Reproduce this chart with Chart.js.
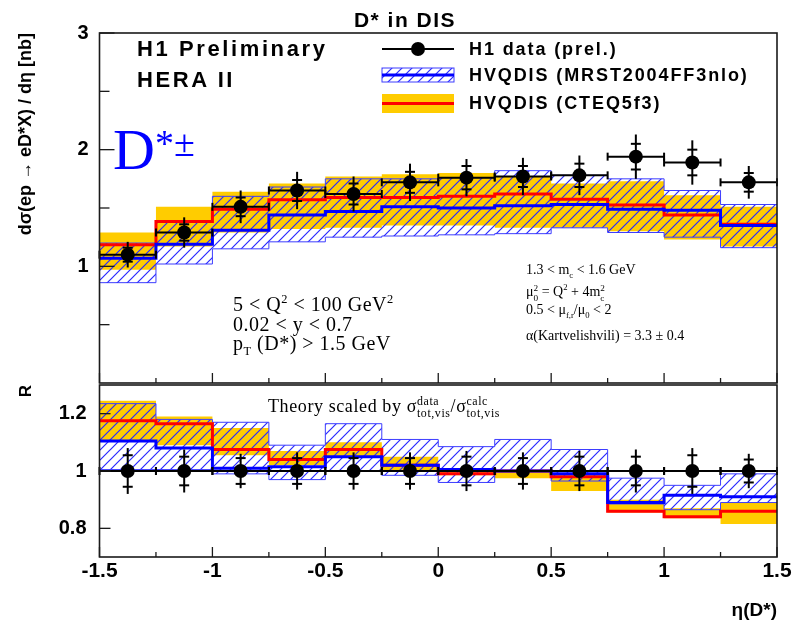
<!DOCTYPE html>
<html>
<head>
<meta charset="utf-8">
<script src="https://cdn.jsdelivr.net/npm/chart.js@4/dist/chart.umd.min.js"></script>
<style>
  html, body { margin: 0; padding: 0; background: #fff; }
  #wrap { position: relative; width: 797px; height: 622px; overflow: hidden; background: #fff; }
  #wrap canvas { position: absolute; left: 0; top: 0; }
  .t { position: absolute; white-space: nowrap; line-height: 1; color: #000; }
  .sans { font-family: "Liberation Sans", Arial, sans-serif; font-weight: bold; }
  .serif { font-family: "Liberation Serif", "Times New Roman", serif; }
  .t sup, .t sub { font-size: 0.62em; line-height: 0; }
  .stk { display: inline-block; font-size: 0.66em; line-height: 1.05; vertical-align: -0.5em; text-align: left; }
  .stk span { display: block; }
</style>
</head>
<body>
<div id="wrap">
  <canvas id="ratioPanel" width="797" height="622"></canvas>
  <canvas id="xsecPanel" width="797" height="622"></canvas>

  <div class="t sans" style="left:405px;top:9px;font-size:21px;letter-spacing:1.5px;transform:translateX(-50%)">D* in DIS</div>
  <div class="t sans" style="left:137px;top:38px;font-size:22px;letter-spacing:2.6px">H1 Preliminary</div>
  <div class="t sans" style="left:137px;top:69px;font-size:22px;letter-spacing:2.6px">HERA II</div>

  <div class="t sans" style="left:469px;top:40px;font-size:18px;letter-spacing:1.9px">H1 data (prel.)</div>
  <div class="t sans" style="left:469px;top:66px;font-size:18px;letter-spacing:1.9px">HVQDIS (MRST2004FF3nlo)</div>
  <div class="t sans" style="left:469px;top:94px;font-size:18px;letter-spacing:1.9px">HVQDIS (CTEQ5f3)</div>

  <div class="t serif" style="left:113px;top:121px;font-size:58px;color:#0000ff">D<span style="font-size:38px;position:relative;top:-13px">*±</span></div>

  <div class="t serif" style="left:233px;top:294px;font-size:20px;letter-spacing:0.5px">5 &lt; Q<sup>2</sup> &lt; 100 GeV<sup>2</sup></div>
  <div class="t serif" style="left:233px;top:314px;font-size:20px;letter-spacing:0.5px">0.02 &lt; y &lt; 0.7</div>
  <div class="t serif" style="left:233px;top:333px;font-size:20px;letter-spacing:0.5px">p<sub>T</sub> (D*) &gt; 1.5 GeV</div>

  <div class="t serif" style="left:526px;top:263px;font-size:14px">1.3 &lt; m<sub>c</sub> &lt; 1.6 GeV</div>
  <div class="t serif" style="left:526px;top:284px;font-size:14px">μ<span class="stk"><span>2</span><span>0</span></span> = Q<sup>2</sup> + 4m<span class="stk"><span>2</span><span>c</span></span></div>
  <div class="t serif" style="left:526px;top:303px;font-size:14px">0.5 &lt; μ<sub>f,r</sub>/μ<sub>0</sub> &lt; 2</div>
  <div class="t serif" style="left:526px;top:329px;font-size:14px">α(Kartvelishvili) = 3.3 ± 0.4</div>

  <div class="t serif" style="left:268px;top:395px;font-size:18px;letter-spacing:0.6px">Theory scaled by σ<span class="stk"><span>data</span><span>tot,vis</span></span>/σ<span class="stk"><span>calc</span><span>tot,vis</span></span></div>
</div>

<script>
// ---- binning and axis ticks ----
const etaEdges = [-1.5, -1.25, -1, -0.75, -0.5, -0.25, 0, 0.25, 0.5, 0.75, 1, 1.25, 1.5];
const etaCentres = etaEdges.slice(0, -1).map((e, i) => (e + etaEdges[i + 1]) / 2);
const etaMajorTicks = [-1.5, -1, -0.5, 0, 0.5, 1, 1.5];
const etaTickLabels = ['-1.5', '-1', '-0.5', '0', '0.5', '1', '1.5'];
const xsecTicks = [1, 2, 3];
const xsecTickLabels = ['1', '2', '3'];
const xsecMinorTicks = [0.5, 1.5, 2.5];
const ratioTicks = [0.8, 1, 1.2];
const ratioTickLabels = ['0.8', '1', '1.2'];

// ---- H1 measurement, dsigma/deta [nb] ----
const h1Xsec     = [1.10, 1.29, 1.51, 1.65, 1.62, 1.72, 1.76, 1.77, 1.78, 1.94, 1.89, 1.72];
const h1XsecStat = [0.06, 0.07, 0.08, 0.09, 0.09, 0.09, 0.10, 0.09, 0.10, 0.11, 0.11, 0.08];
const h1XsecTot  = [0.11, 0.13, 0.14, 0.16, 0.15, 0.16, 0.16, 0.16, 0.17, 0.19, 0.19, 0.14];

// ---- HVQDIS with MRST2004FF3nlo ----
const mrstXsec     = [1.07, 1.19, 1.31, 1.44, 1.47, 1.51, 1.50, 1.52, 1.53, 1.49, 1.48, 1.35];
const mrstXsecUp   = [1.20, 1.39, 1.60, 1.68, 1.75, 1.75, 1.76, 1.82, 1.78, 1.75, 1.65, 1.53];
const mrstXsecDown = [0.86, 1.02, 1.15, 1.21, 1.25, 1.26, 1.27, 1.28, 1.33, 1.29, 1.25, 1.16];

// ---- HVQDIS with CTEQ5f3 ----
const cteqXsec     = [1.185, 1.385, 1.49, 1.57, 1.59, 1.59, 1.60, 1.62, 1.575, 1.525, 1.44, 1.36];
const cteqXsecUp   = [1.29, 1.51, 1.64, 1.71, 1.77, 1.79, 1.80, 1.77, 1.71, 1.73, 1.61, 1.51];
const cteqXsecDown = [0.97, 1.17, 1.29, 1.32, 1.33, 1.35, 1.35, 1.33, 1.33, 1.30, 1.23, 1.17];

// ---- ratio panel: theory scaled to the visible data cross section ----
const h1Ratio     = [1, 1, 1, 1, 1, 1, 1, 1, 1, 1, 1, 1];
const h1RatioStat = [0.055, 0.05, 0.045, 0.045, 0.045, 0.045, 0.05, 0.045, 0.05, 0.05, 0.055, 0.04];
const h1RatioTot  = [0.08, 0.075, 0.06, 0.065, 0.065, 0.065, 0.07, 0.065, 0.07, 0.075, 0.08, 0.06];

const mrstRatio     = [1.105, 1.08, 1.01, 1.015, 1.05, 1.02, 1.005, 1.0, 0.99, 0.89, 0.915, 0.91];
const mrstRatioUp   = [1.235, 1.18, 1.17, 1.09, 1.165, 1.11, 1.085, 1.11, 1.075, 0.975, 0.95, 0.99];
const mrstRatioDown = [1.005, 1.005, 0.99, 0.97, 1.0, 0.985, 0.96, 1.0, 0.965, 0.885, 0.865, 0.89];

const cteqRatio     = [1.175, 1.165, 1.075, 1.04, 1.075, 1.02, 0.99, 1.0, 0.98, 0.86, 0.84, 0.86];
const cteqRatioUp   = [1.245, 1.19, 1.15, 1.07, 1.10, 1.05, 1.0, 1.0, 0.985, 0.90, 0.87, 0.89];
const cteqRatioDown = [1.105, 1.09, 1.055, 1.02, 1.05, 1.0, 0.985, 0.975, 0.93, 0.855, 0.835, 0.815];

const SANS = '"Liberation Sans", Arial, sans-serif';
const YELLOW = '#ffcc00';
const RED = '#ff0000';
const BLUE = '#0000ff';
const BLUE_EDGE = '#3d3dff';

// histogram outline: one point per lower bin edge plus the closing edge
const stepPoints = vals => {
  const pts = vals.map((v, i) => ({ x: etaEdges[i], y: v }));
  pts.push({ x: etaEdges[vals.length], y: vals[vals.length - 1] });
  return pts;
};

function hatchPattern() {
  const c = document.createElement('canvas');
  c.width = 10; c.height = 10;
  const g = c.getContext('2d');
  g.strokeStyle = '#2a2aff';
  g.lineWidth = 1.2;
  g.beginPath();
  g.moveTo(0, 10); g.lineTo(10, 0);
  g.moveTo(-1, 1); g.lineTo(1, -1);
  g.moveTo(9, 11); g.lineTo(11, 9);
  g.stroke();
  return g.createPattern(c, 'repeat');
}
const HATCH = hatchPattern();

function theoryDatasets(cLo, cHi, cMid, mLo, mHi, mMid) {
  // 'before': the horizontal run between two edges keeps the earlier edge's value
  const base = { stepped: 'before', pointRadius: 0, tension: 0 };
  return [
    { ...base, data: stepPoints(cLo), borderColor: 'rgba(0,0,0,0)', borderWidth: 0, fill: false, order: 10 },
    { ...base, data: stepPoints(cHi), borderColor: 'rgba(0,0,0,0)', borderWidth: 0, fill: '-1', backgroundColor: YELLOW, order: 9 },
    { ...base, data: stepPoints(mLo), borderColor: BLUE_EDGE, borderWidth: 1, fill: false, order: 8 },
    { ...base, data: stepPoints(mHi), borderColor: BLUE_EDGE, borderWidth: 1, fill: '-1', backgroundColor: HATCH, order: 7 },
    { ...base, data: stepPoints(cMid), borderColor: RED, borderWidth: 3, fill: false, order: 4 },
    { ...base, data: stepPoints(mMid), borderColor: BLUE, borderWidth: 3, fill: false, order: 3 }
  ];
}

function dataDataset(vals) {
  return {
    data: vals.map((v, i) => ({ x: etaCentres[i], y: v })),
    showLine: false, pointRadius: 7, pointBackgroundColor: '#000',
    pointBorderWidth: 0, order: 0
  };
}

// data error bars: bin-wide horizontal bar with end caps, total error bar, stat error ticks
const h1err = {
  id: 'h1err',
  afterDatasetsDraw(chart, args, o) {
    const { ctx } = chart;
    const xs = chart.scales.x, ys = chart.scales.y;
    const seg = (x1, y1, x2, y2) => { ctx.beginPath(); ctx.moveTo(x1, y1); ctx.lineTo(x2, y2); ctx.stroke(); };
    ctx.save();
    ctx.strokeStyle = '#000';
    ctx.lineWidth = 2;
    o.values.forEach((v, i) => {
      const xc = xs.getPixelForValue(etaCentres[i]);
      const xl = xs.getPixelForValue(etaEdges[i]);
      const xr = xs.getPixelForValue(etaEdges[i + 1]);
      const y = ys.getPixelForValue(v);
      seg(xl, y, xr, y);
      seg(xl, y - 4, xl, y + 4);
      seg(xr, y - 4, xr, y + 4);
      seg(xc, ys.getPixelForValue(v + o.tot[i]), xc, ys.getPixelForValue(v - o.tot[i]));
      const s1 = ys.getPixelForValue(v + o.stat[i]);
      const s2 = ys.getPixelForValue(v - o.stat[i]);
      seg(xc - 5, s1, xc + 5, s1);
      seg(xc - 5, s2, xc + 5, s2);
    });
    ctx.restore();
  }
};

// panel frame with inward tick marks
const frame = {
  id: 'frame',
  afterDraw(chart, args, o) {
    const { ctx, chartArea: a } = chart;
    const xs = chart.scales.x, ys = chart.scales.y;
    const seg = (x1, y1, x2, y2) => { ctx.beginPath(); ctx.moveTo(x1, y1); ctx.lineTo(x2, y2); ctx.stroke(); };
    ctx.save();
    ctx.strokeStyle = '#1a1a1a';
    ctx.lineWidth = 1.3;
    (o.yMajor || []).forEach(v => { const y = ys.getPixelForValue(v); seg(a.left, y, a.left + o.yMajorLen, y); });
    (o.yMinor || []).forEach(v => { const y = ys.getPixelForValue(v); seg(a.left, y, a.left + o.yMinorLen, y); });
    etaEdges.forEach(v => {
      const x = xs.getPixelForValue(v);
      const len = etaMajorTicks.includes(v) ? o.xMajorLen : o.xMinorLen;
      seg(x, a.bottom, x, a.bottom - len);
    });
    ctx.lineWidth = 1.6;
    ctx.strokeRect(a.left, a.top, a.right - a.left, a.bottom - a.top);
    ctx.restore();
  }
};

// legend keys drawn next to the legend entries
const legendKeys = {
  id: 'legendKeys',
  afterDraw(chart) {
    const ctx = chart.ctx;
    const x1 = 382, x2 = 454;
    ctx.save();
    // H1 data
    ctx.strokeStyle = '#000'; ctx.lineWidth = 2;
    ctx.beginPath(); ctx.moveTo(x1, 49); ctx.lineTo(x2, 49); ctx.stroke();
    ctx.fillStyle = '#000';
    ctx.beginPath(); ctx.arc((x1 + x2) / 2, 49, 7, 0, Math.PI * 2); ctx.fill();
    // MRST band
    ctx.fillStyle = HATCH; ctx.fillRect(x1, 68, x2 - x1, 14);
    ctx.strokeStyle = BLUE_EDGE; ctx.lineWidth = 1; ctx.strokeRect(x1, 68, x2 - x1, 14);
    ctx.strokeStyle = BLUE; ctx.lineWidth = 3;
    ctx.beginPath(); ctx.moveTo(x1, 75); ctx.lineTo(x2, 75); ctx.stroke();
    // CTEQ band
    ctx.fillStyle = YELLOW; ctx.fillRect(x1, 94, x2 - x1, 19);
    ctx.strokeStyle = RED; ctx.lineWidth = 3;
    ctx.beginPath(); ctx.moveTo(x1, 103.5); ctx.lineTo(x2, 103.5); ctx.stroke();
    ctx.restore();
  }
};

const common = {
  responsive: false, animation: false, events: [],
  plugins: { legend: { display: false }, tooltip: { enabled: false }, title: { display: false } }
};

// upper panel: differential cross section
new Chart(document.getElementById('xsecPanel'), {
  type: 'line',
  data: { datasets: [...theoryDatasets(cteqXsecDown, cteqXsecUp, cteqXsec, mrstXsecDown, mrstXsecUp, mrstXsec), dataDataset(h1Xsec)] },
  options: {
    ...common,
    layout: { padding: { top: 33, right: 20, bottom: 239, left: 0 } },
    plugins: {
      ...common.plugins,
      h1err: { values: h1Xsec, stat: h1XsecStat, tot: h1XsecTot },
      frame: { yMajor: xsecTicks, yMinor: xsecMinorTicks, yMajorLen: 15, yMinorLen: 10, xMajorLen: 10, xMinorLen: 5 }
    },
    scales: {
      x: { type: 'linear', min: -1.5, max: 1.5, display: false },
      y: {
        type: 'linear', min: 0, max: 3,
        afterFit(s) { s.width = 99.5; },
        afterBuildTicks(s) { s.ticks = xsecTicks.map(v => ({ value: v })); },
        grid: { display: false, drawTicks: false }, border: { display: false },
        ticks: { callback: (v, i) => xsecTickLabels[i], color: '#000', padding: 11,
                 font: { family: SANS, weight: 'bold', size: 20 } },
        title: { display: true, text: 'dσ(ep → eD*X) / dη [nb]', align: 'end', color: '#000',
                 font: { family: SANS, weight: 'bold', size: 18 }, padding: { top: 15, bottom: 0 } }
      }
    }
  },
  plugins: [h1err, frame, legendKeys]
});

// lower panel: ratio to data
new Chart(document.getElementById('ratioPanel'), {
  type: 'line',
  data: { datasets: [...theoryDatasets(cteqRatioDown, cteqRatioUp, cteqRatio, mrstRatioDown, mrstRatioUp, mrstRatio), dataDataset(h1Ratio)] },
  options: {
    ...common,
    layout: { padding: { top: 385, right: 20, bottom: 0, left: 0 } },
    plugins: {
      ...common.plugins,
      h1err: { values: h1Ratio, stat: h1RatioStat, tot: h1RatioTot },
      frame: { yMajor: ratioTicks, yMinor: [], yMajorLen: 11, yMinorLen: 0, xMajorLen: 10, xMinorLen: 5 }
    },
    scales: {
      x: {
        type: 'linear', min: -1.5, max: 1.5,
        afterFit(s) { s.height = 65; },
        afterBuildTicks(s) { s.ticks = etaMajorTicks.map(v => ({ value: v })); },
        grid: { display: false, drawTicks: false }, border: { display: false },
        ticks: { callback: (v, i) => etaTickLabels[i], color: '#000', padding: 2, autoSkip: false, maxRotation: 0,
                 font: { family: SANS, weight: 'bold', size: 21 } },
        title: { display: true, text: 'η(D*)', align: 'end', color: '#000',
                 font: { family: SANS, weight: 'bold', size: 19 }, padding: { top: 4.6, bottom: 0 } }
      },
      y: {
        type: 'linear', min: 0.7, max: 1.3,
        afterFit(s) { s.width = 99.5; },
        afterBuildTicks(s) { s.ticks = ratioTicks.map(v => ({ value: v })); },
        grid: { display: false, drawTicks: false }, border: { display: false },
        ticks: { callback: (v, i) => ratioTickLabels[i], color: '#000', padding: 13,
                 font: { family: SANS, weight: 'bold', size: 20 } },
        title: { display: true, text: 'R', align: 'end', color: '#000',
                 font: { family: SANS, weight: 'bold', size: 17 }, padding: { top: 15.8, bottom: 0 } }
      }
    }
  },
  plugins: [h1err, frame]
});
</script>
</body>
</html>
